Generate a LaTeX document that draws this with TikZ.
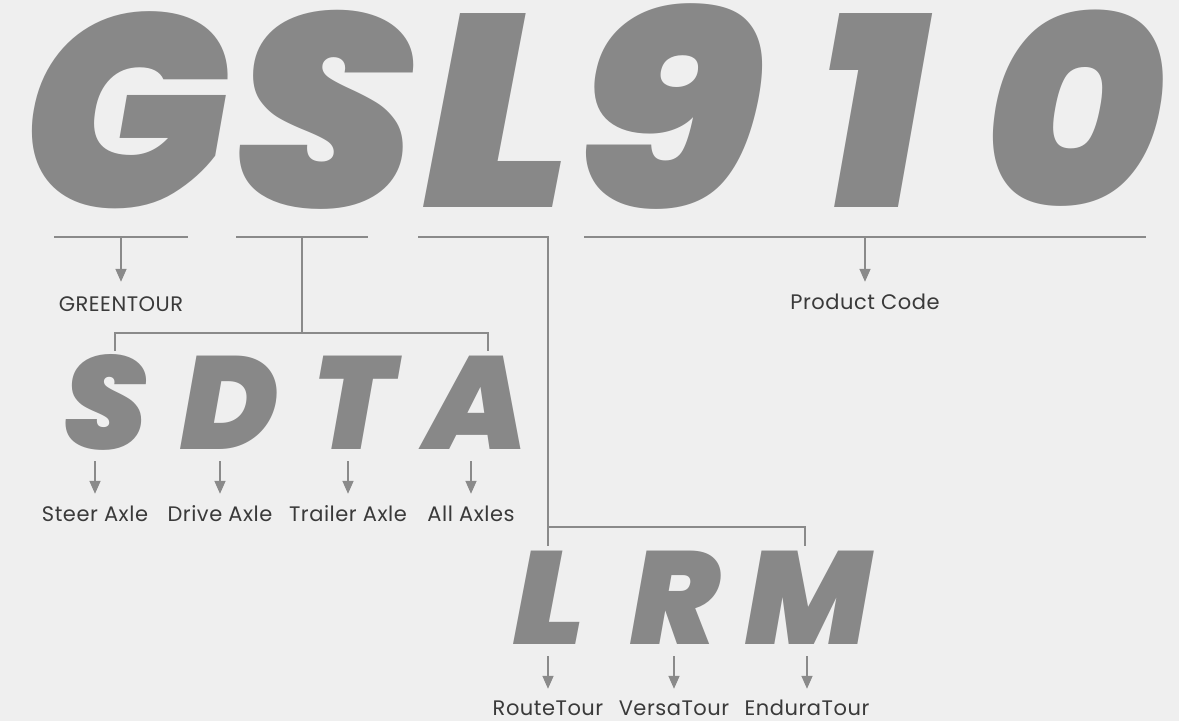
\documentclass[tikz,border=0pt]{standalone}
\usepackage{fontspec}
\usetikzlibrary{arrows.meta}
\setmainfont{Poppins}[LetterSpace=2.5]
\IfFontExistsTF{Poppins Black Italic}
  {\newfontfamily\bigfont{Poppins Black Italic}}
  {\newfontfamily\bigfont{Liberation Sans}[UprightFont={* Bold Italic}]}
\definecolor{bgcol}{HTML}{EFEFEF}
\definecolor{lettergray}{HTML}{888888}
\definecolor{linegray}{HTML}{8A8A8A}
\definecolor{labeltext}{HTML}{3A3A3A}
\tikzset{bigletter/.style={font=\bigfont\fontsize{274}{274}\selectfont, text=lettergray, inner sep=0pt, anchor=base, text depth=0pt},
midletter/.style={font=\bigfont\fontsize{132}{132}\selectfont, text=lettergray, inner sep=0pt, anchor=base, text depth=0pt},
lbl/.style={font=\fontsize{21}{21}\selectfont, text=labeltext, inner sep=0pt, anchor=base, text height=14pt},
conn/.style={draw=linegray, line width=1.6pt},
arrow/.style={conn, -{Triangle[width=11pt,length=13pt]}}
}

\begin{document}
\begin{tikzpicture}[x=1pt, y=-1pt]
    \fill[bgcol] (0,0) rectangle (1179,721);
    % Code letters
    \node [bigletter] (big-g) at (126,207) {G};
    \node [bigletter, xscale=1.04] (big-s) at (326,207) {S};
    \node [bigletter, xscale=1.08] (big-l) at (498,207) {L};
    \node [bigletter, xscale=1.14] (big-9) at (669,207) {9};
    \node [bigletter] (big-1) at (871,207) {1};
    \node [bigletter] (big-0) at (1074,207) {0};
    \node [midletter] (sdta-s) at (106,449) {S};
    \node [midletter] (sdta-d) at (230,449) {D};
    \node [midletter] (sdta-t) at (353,449) {T};
    \node [midletter] (sdta-a) at (477,449) {A};
    \node [midletter, xscale=1.08] (lrm-l) at (550,644) {L};
    \node [midletter] (lrm-r) at (675,644) {R};
    \node [midletter] (lrm-m) at (808,644) {M};
    % Labels
    \node [lbl] (greentour) at (121,311) {GREENTOUR};
    \node [lbl] (product) at (865,309) {Product Code};
    \node [lbl] (steer) at (95,521) {Steer Axle};
    \node [lbl] (drive) at (220,521) {Drive Axle};
    \node [lbl] (trailer) at (348,521) {Trailer Axle};
    \node [lbl] (allaxles) at (471,521) {All Axles};
    \node [lbl] (routetour) at (548,715) {RouteTour};
    \node [lbl] (versatour) at (674,715) {VersaTour};
    \node [lbl] (enduratour) at (807,715) {EnduraTour};
    % Line ends
    \coordinate (g-left) at (54,237);
    \coordinate (g-right) at (188,237);
    \coordinate (g-mid) at (121,237);
    \coordinate (s-left) at (236,237);
    \coordinate (s-right) at (368,237);
    \coordinate (s-mid) at (302,237);
    \coordinate (sdta-top) at (302,333);
    \coordinate (sdta-left) at (115,351);
    \coordinate (sdta-right) at (488,351);
    \coordinate (l-left) at (418,237);
    \coordinate (lrm-top) at (548,527);
    \coordinate (lrm-left) at (548,546);
    \coordinate (lrm-right) at (805,546);
    \coordinate (code-left) at (584,237);
    \coordinate (code-right) at (1146,237);
    \coordinate (code-mid) at (865,237);
    % Lines
    \draw [conn] (g-left) -- (g-right);
    \draw [conn] (s-left) -- (s-right);
    \draw [conn] (code-left) -- (code-right);
    \draw [conn] (s-mid) -- (sdta-top);
    \draw [conn] (sdta-left) |- (sdta-top) -| (sdta-right);
    \draw [conn] (l-left) -| (lrm-left);
    \draw [conn] (lrm-top) -| (lrm-right);
    % Arrows
    \draw [arrow, shorten >=15pt] (g-mid) -- (greentour.north);
    \draw [arrow, shorten >=13pt] (code-mid) -- (product.north);
    \draw [arrow, shorten <=12pt, shorten >=13pt] (sdta-s.base -| steer.north) -- (steer.north);
    \draw [arrow, shorten <=12pt, shorten >=13pt] (sdta-d.base -| drive.north) -- (drive.north);
    \draw [arrow, shorten <=12pt, shorten >=13pt] (sdta-t.base -| trailer.north) -- (trailer.north);
    \draw [arrow, shorten <=12pt, shorten >=13pt] (sdta-a.base -| allaxles.north) -- (allaxles.north);
    \draw [arrow, shorten <=12pt, shorten >=12pt] (lrm-l.base -| routetour.north) -- (routetour.north);
    \draw [arrow, shorten <=12pt, shorten >=12pt] (lrm-r.base -| versatour.north) -- (versatour.north);
    \draw [arrow, shorten <=12pt, shorten >=12pt] (lrm-m.base -| enduratour.north) -- (enduratour.north);
\end{tikzpicture}
\end{document}
